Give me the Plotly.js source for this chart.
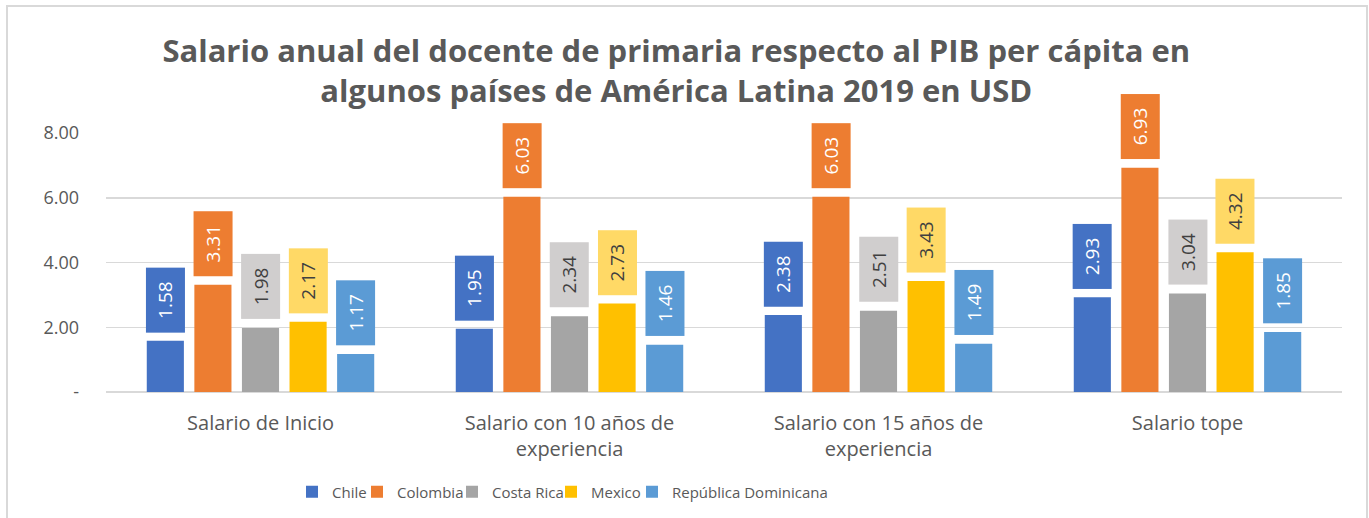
<!DOCTYPE html>
<html>
<head>
<meta charset="utf-8">
<script src="https://cdn.plot.ly/plotly-3.0.1.min.js"></script>
<style>
html,body{margin:0;padding:0;background:#fff;}
#wrap{position:relative;width:1369px;height:518px;overflow:hidden;}
#chart{width:1369px;height:518px;}
#border{position:absolute;left:6px;top:5px;width:1358px;height:600px;border:2px solid #d9d9d9;pointer-events:none;}
</style>
</head>
<body>
<div id="wrap"><div id="chart"></div><div id="border"></div></div>
<script>
const categories = ["Salario de Inicio", "Salario con 10 años de<br>experiencia", "Salario con 15 años de<br>experiencia", "Salario tope"];
const seriesNames = ["Chile", "Colombia", "Costa Rica", "Mexico", "República Dominicana"];
const chile = [1.58, 1.95, 2.38, 2.93];
const colombia = [3.31, 6.03, 6.03, 6.93];
const costaRica = [1.98, 2.34, 2.51, 3.04];
const mexico = [2.17, 2.73, 3.43, 4.32];
const repDominicana = [1.17, 1.46, 1.49, 1.85];
const yTickVals = [0, 2, 4, 6, 8];
const yTickText = ["-", "2.00", "4.00", "6.00", "8.00"];

const seriesValues = [chile, colombia, costaRica, mexico, repDominicana];
const barColors = ["#4472C4", "#ED7D31", "#A5A5A5", "#FFC000", "#5B9BD5"];
const boxColors = ["#4472C4", "#ED7D31", "#D0CECE", "#FFD966", "#5B9BD5"];
const boxText = ["#ffffff", "#ffffff", "#404040", "#404040", "#ffffff"];
const FONT = "Open Sans, Noto Sans, sans-serif";

// legend text start positions (px) for each series entry
const legendTextPx = [328, 393, 488, 587, 668];
const plotL = 106, plotR = 1342, plotT = 133, plotB = 392;

const legendKeys = ["legend", "legend2", "legend3", "legend4", "legend5"];
const traces = seriesNames.map((n, i) => ({
  type: "bar", name: n, x: categories, y: seriesValues[i],
  marker: {color: barColors[i]}, hoverinfo: "none", legend: legendKeys[i]
}));

const slot = 47.6;
const annotations = [];
seriesValues.forEach((vals, i) => {
  vals.forEach((v, j) => {
    annotations.push({
      x: categories[j], y: v, xref: "x", yref: "y",
      xshift: (i - 2) * slot, yshift: 8,
      xanchor: "center", yanchor: "bottom",
      text: v.toFixed(2), showarrow: false, textangle: -90,
      width: 64, height: 38, bgcolor: boxColors[i], borderpad: 0,
      font: {family: FONT, size: 19, color: boxText[i]}
    });
  });
});

const layout = {
  width: 1369, height: 518,
  paper_bgcolor: "#ffffff", plot_bgcolor: "#ffffff",
  margin: {l: plotL, r: 1369 - plotR, t: plotT, b: 518 - plotB, autoexpand: false},
  title: {
    text: "<b>Salario anual del docente de primaria respecto al PIB per cápita en<br>algunos países de América Latina 2019 en USD</b>",
    font: {family: FONT, size: 31, color: "#595959"},
    x: 0.494, xanchor: "center", y: 0.88, yanchor: "middle", yref: "container"
  },
  barmode: "group", bargap: 0.23, bargroupgap: 0.22,
  xaxis: {
    tickfont: {family: FONT, size: 20, color: "#595959"},
    showline: false, ticks: "", showgrid: false, ticklabelstandoff: 17
  },
  yaxis: {
    range: [0, 8], tickvals: yTickVals, ticktext: yTickText,
    tickfont: {family: FONT, size: 18, color: "#595959"},
    gridcolor: "#d9d9d9", gridwidth: 1.5, zeroline: true, zerolinecolor: "#d9d9d9", zerolinewidth: 1.5,
    showline: false, ticks: "", ticklabelstandoff: 26
  },
  annotations: annotations,
  showlegend: true
};
legendKeys.forEach((k, i) => {
  layout[k] = {
    orientation: "h", xanchor: "left", yanchor: "middle",
    x: (legendTextPx[i] - 36 - plotL) / (plotR - plotL),
    y: (plotB - 492) / (plotB - plotT),
    font: {family: FONT, size: 15, color: "#595959"}, itemwidth: 30,
    bgcolor: "rgba(0,0,0,0)", borderwidth: 0
  };
});

Plotly.newPlot("chart", traces, layout, {displayModeBar: false, staticPlot: true});
</script>
</body>
</html>
